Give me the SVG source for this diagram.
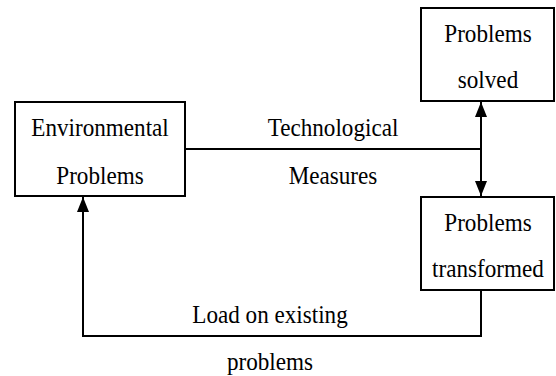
<svg xmlns="http://www.w3.org/2000/svg" width="556" height="376" viewBox="0 0 556 376">
<defs>
<style>
.box{fill:#fff;stroke:#000;stroke-width:2}
.ln{fill:none;stroke:#000;stroke-width:2}
</style>
<marker id="ah" viewBox="0 0 15 12" refX="15" refY="6" markerWidth="15" markerHeight="12" markerUnits="userSpaceOnUse" orient="auto-start-reverse">
<path d="M0,0 L15,6 L0,12 Z" fill="#000"/>
</marker>
</defs>
<g id="connectors">
<path class="ln" d="M185,149 H481"/>
<path class="ln" d="M481,102 V196" marker-start="url(#ah)" marker-end="url(#ah)"/>
<path class="ln" d="M481,290 V336 H83 V197" marker-end="url(#ah)"/>
<g id="label-tech" font-family="Liberation Serif" font-size="26" text-anchor="middle">
<text transform="translate(333,136) scale(0.89,1)">Technological</text>
<text transform="translate(333,184) scale(0.89,1)">Measures</text>
</g>
<g id="label-load" font-family="Liberation Serif" font-size="26" text-anchor="middle">
<text transform="translate(270,323) scale(0.89,1)">Load on existing</text>
<text transform="translate(270,370) scale(0.89,1)">problems</text>
</g>
</g>
<g id="env" font-family="Liberation Serif" font-size="26" text-anchor="middle">
<rect class="box" x="15" y="102" width="170" height="94"/>
<text transform="translate(100,136) scale(0.89,1)">Environmental</text>
<text transform="translate(100,184) scale(0.89,1)">Problems</text>
</g>
<g id="solved" font-family="Liberation Serif" font-size="26" text-anchor="middle">
<rect class="box" x="421" y="8" width="133" height="93"/>
<text transform="translate(488,42) scale(0.89,1)">Problems</text>
<text transform="translate(488,88) scale(0.89,1)">solved</text>
</g>
<g id="transformed" font-family="Liberation Serif" font-size="26" text-anchor="middle">
<rect class="box" x="421" y="197" width="133" height="93"/>
<text transform="translate(488,231) scale(0.89,1)">Problems</text>
<text transform="translate(488,277) scale(0.89,1)">transformed</text>
</g>
</svg>
